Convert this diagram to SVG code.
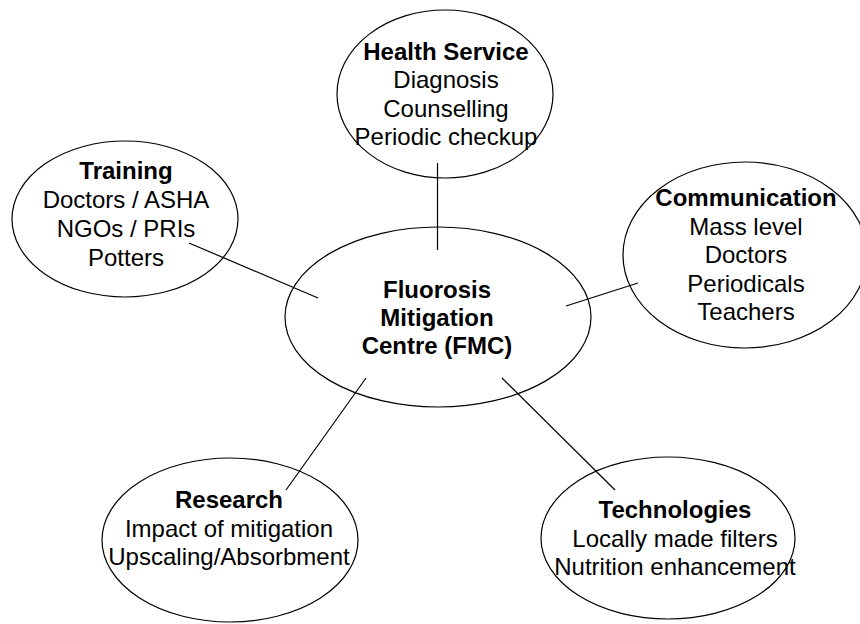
<svg xmlns="http://www.w3.org/2000/svg" width="860" height="624" viewBox="0 0 860 624">
<style>
  .node ellipse { fill: #ffffff; stroke: #000000; stroke-width: 1.2; }
  .conn line { stroke: #000000; stroke-width: 1.2; }
  text { font-family: "Liberation Sans", Arial, sans-serif; font-size: 24px; fill: #000000; text-anchor: middle; }
  .b { font-weight: bold; }
</style>
<rect width="860" height="624" fill="#ffffff"/>
<g id="node-health" class="node">
  <ellipse cx="445" cy="94" rx="108" ry="84"/>
  <text x="446" y="60" class="b">Health Service</text>
  <text x="446" y="88">Diagnosis</text>
  <text x="446" y="117">Counselling</text>
  <text x="446" y="145">Periodic checkup</text>
</g>
<g id="node-training" class="node">
  <ellipse cx="125" cy="219" rx="113" ry="78"/>
  <text x="126" y="179" class="b">Training</text>
  <text x="126" y="208">Doctors / ASHA</text>
  <text x="126" y="237">NGOs / PRIs</text>
  <text x="126" y="266">Potters</text>
</g>
<g id="node-communication" class="node">
  <ellipse cx="745" cy="255" rx="122" ry="93"/>
  <text x="746" y="206" class="b">Communication</text>
  <text x="746" y="235">Mass level</text>
  <text x="746" y="263">Doctors</text>
  <text x="746" y="292">Periodicals</text>
  <text x="746" y="320">Teachers</text>
</g>
<g id="node-fmc" class="node">
  <ellipse cx="438" cy="317" rx="153" ry="90"/>
  <text x="437" y="298" class="b">Fluorosis</text>
  <text x="437" y="326" class="b">Mitigation</text>
  <text x="437" y="354" class="b">Centre (FMC)</text>
</g>
<g id="node-research" class="node">
  <ellipse cx="230" cy="540" rx="128" ry="82"/>
  <text x="229" y="508" class="b">Research</text>
  <text x="229" y="537">Impact of mitigation</text>
  <text x="229" y="565">Upscaling/Absorbment</text>
</g>
<g id="node-technologies" class="node">
  <ellipse cx="668" cy="538" rx="127" ry="81"/>
  <text x="675" y="518" class="b">Technologies</text>
  <text x="675" y="547">Locally made filters</text>
  <text x="675" y="575">Nutrition enhancement</text>
</g>
<g id="connectors" class="conn">
  <line x1="437.5" y1="163" x2="437.5" y2="250"/>
  <line x1="189" y1="243" x2="318" y2="298"/>
  <line x1="638" y1="283" x2="566" y2="306"/>
  <line x1="366" y1="378" x2="286" y2="490"/>
  <line x1="502" y1="378" x2="615" y2="490"/>
</g>
</svg>
